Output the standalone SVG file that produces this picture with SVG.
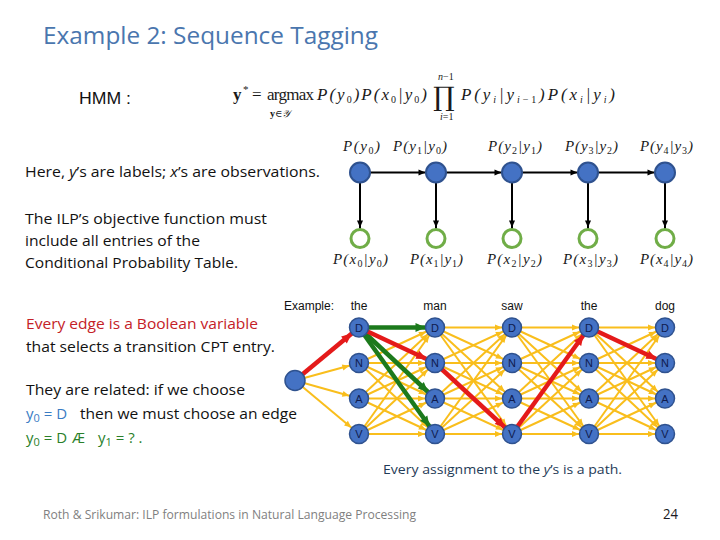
<svg xmlns="http://www.w3.org/2000/svg" width="720" height="540" viewBox="0 0 720 540">
<style>
.body{font-family:"Open Sans","Liberation Sans",sans-serif;font-size:15px;fill:#111}
.title{font-family:"Open Sans","Liberation Sans",sans-serif;font-size:24px;fill:#4A76AE}
.ar{font-family:"Liberation Sans",Arial,sans-serif;font-size:12px;fill:#111}
.m{font-family:"Liberation Serif","DejaVu Serif",serif;font-style:italic;font-size:15px;fill:#1a1a1a}
.mu{font-family:"Liberation Serif","DejaVu Serif",serif;font-size:16px;fill:#1a1a1a}
.sub{font-style:normal;font-size:10px}
.tn circle{fill:#4472C4;stroke:#2F528F;stroke-width:1.5}
.lt{font-family:"Liberation Sans",Arial,sans-serif;font-size:11px;text-anchor:middle}
.hb{fill:#4472C4;stroke:#2F528F;stroke-width:2}
.hg{fill:#fff;stroke:#70AD47;stroke-width:3}
.ye line{stroke:#F9BE1C;stroke-width:2;marker-end:url(#ay)}
.rd{stroke:#E41A1A;stroke-width:4.5;marker-end:url(#arr)}
.gr{stroke:#1C7A1C;stroke-width:4.5;marker-end:url(#agr)}
.bk{stroke:#000;stroke-width:2;marker-end:url(#ak)}
</style>
<defs>
<marker id="ay" markerUnits="userSpaceOnUse" markerWidth="7" markerHeight="6" refX="17" refY="3" orient="auto" overflow="visible"><path d="M0,0 L7,3 L0,6 z" fill="#F9BE1C"/></marker>
<marker id="arr" markerUnits="userSpaceOnUse" markerWidth="10" markerHeight="9" refX="19.5" refY="4.5" orient="auto" overflow="visible"><path d="M0,0 L10,4.5 L0,9 z" fill="#E41A1A"/></marker>
<marker id="agr" markerUnits="userSpaceOnUse" markerWidth="10" markerHeight="9" refX="19.5" refY="4.5" orient="auto" overflow="visible"><path d="M0,0 L10,4.5 L0,9 z" fill="#1C7A1C"/></marker>
<marker id="ak" markerUnits="userSpaceOnUse" markerWidth="7" markerHeight="6" refX="17.5" refY="3" orient="auto" overflow="visible"><path d="M0,0 L7,3 L0,6 z" fill="#000"/></marker>
</defs>
<rect width="720" height="540" fill="#fff"/>

<text class="title" x="43" y="44" textLength="335" lengthAdjust="spacingAndGlyphs">Example 2: Sequence Tagging</text>
<text class="ar" x="79" y="104" style="font-size:16px" textLength="52" lengthAdjust="spacingAndGlyphs">HMM :</text>

<g id="formula">
<text x="233" y="100" style="font-family:'Liberation Serif',serif;font-size:17px;font-weight:bold;fill:#1a1a1a">y</text>
<text x="243" y="93" style="font-family:'Liberation Serif',serif;font-size:11px;fill:#1a1a1a">*</text>
<text class="mu" x="252" y="100" style="font-size:17px">=</text>
<text class="mu" x="267" y="100" style="font-size:17px" textLength="47" lengthAdjust="spacing">argmax</text>
<text x="270" y="117" style="font-family:'Liberation Serif','DejaVu Serif',serif;font-size:10px;fill:#1a1a1a"><tspan font-weight="bold">y</tspan>∈<tspan font-style="italic">𝒴</tspan></text>
<text class="m" x="317" y="100" style="font-size:17px" textLength="110" lengthAdjust="spacing">P(y<tspan class="sub" dy="3">0</tspan><tspan dy="-3">)P(x</tspan><tspan class="sub" dy="3">0</tspan><tspan dy="-3">|y</tspan><tspan class="sub" dy="3">0</tspan><tspan dy="-3">)</tspan></text>
<text x="433" y="106" style="font-family:'DejaVu Serif',serif;font-size:27px;fill:#1a1a1a">∏</text>
<text x="438" y="80" style="font-family:'Liberation Serif',serif;font-size:10px;font-style:italic;fill:#1a1a1a">n<tspan font-style="normal">−1</tspan></text>
<text x="440" y="120" style="font-family:'Liberation Serif',serif;font-size:10px;font-style:italic;fill:#1a1a1a">i<tspan font-style="normal">=1</tspan></text>
<text class="m" x="461" y="100" style="font-size:17px" textLength="154" lengthAdjust="spacing">P(y<tspan class="sub" style="font-style:italic" dy="3">i</tspan><tspan dy="-3">|y</tspan><tspan class="sub" style="font-style:italic" dy="3">i</tspan><tspan class="sub" dy="0">−1</tspan><tspan dy="-3">)P(x</tspan><tspan class="sub" style="font-style:italic" dy="3">i</tspan><tspan dy="-3">|y</tspan><tspan class="sub" style="font-style:italic" dy="3">i</tspan><tspan dy="-3">)</tspan></text>
</g>

<text class="body" x="25" y="177" textLength="295" lengthAdjust="spacingAndGlyphs">Here, <tspan font-style="italic">y</tspan>’s are labels; <tspan font-style="italic">x</tspan>’s are observations.</text>
<text class="body" x="25" y="224" textLength="242" lengthAdjust="spacingAndGlyphs">The ILP’s objective function must</text>
<text class="body" x="25" y="246" textLength="175" lengthAdjust="spacingAndGlyphs">include all entries of the</text>
<text class="body" x="25" y="268" textLength="213" lengthAdjust="spacingAndGlyphs">Conditional Probability Table.</text>

<text class="body" x="26" y="329" style="fill:#C42127" textLength="232" lengthAdjust="spacingAndGlyphs">Every edge is a Boolean variable</text>
<text class="body" x="26" y="352" textLength="249" lengthAdjust="spacingAndGlyphs">that selects a transition CPT entry.</text>
<text class="body" x="26" y="395" textLength="219" lengthAdjust="spacingAndGlyphs">They are related: if we choose</text>
<text class="body" x="26" y="419" style="fill:#3A7CC4">y<tspan dy="3" font-size="11">0</tspan><tspan dy="-3"> = D</tspan></text>
<text class="body" x="80" y="419" textLength="217" lengthAdjust="spacingAndGlyphs">then we must choose an edge</text>
<text class="body" x="26" y="443" style="fill:#2A7F2A">y<tspan dy="3" font-size="11">0</tspan><tspan dy="-3"> = D</tspan></text>
<text class="body" x="72" y="443" style="fill:#2A7F2A">Æ</text>
<text class="body" x="98" y="443" style="fill:#2A7F2A">y<tspan dy="3" font-size="11">1</tspan><tspan dy="-3"> = ? .</tspan></text>

<text class="body" x="383" y="474" style="font-size:13.5px;fill:#1F3B57" textLength="239" lengthAdjust="spacingAndGlyphs">Every assignment to the <tspan font-style="italic">y</tspan>’s is a path.</text>
<text class="body" x="43" y="519" style="font-size:12.5px;fill:#7F7F7F" textLength="373" lengthAdjust="spacingAndGlyphs">Roth &amp; Srikumar: ILP formulations in Natural Language Processing</text>
<text class="body" x="663" y="519" style="font-size:15px;fill:#1A1A22" textLength="15" lengthAdjust="spacingAndGlyphs">24</text>

<!-- HMM chain labels -->
<g id="hmm-labels">
<text class="m" x="343" y="151" textLength="37" lengthAdjust="spacing">P(y<tspan class="sub" dy="3">0</tspan><tspan dy="-3">)</tspan></text>
<text class="m" x="393" y="151" textLength="54" lengthAdjust="spacing">P(y<tspan class="sub" dy="3">1</tspan><tspan dy="-3">|y</tspan><tspan class="sub" dy="3">0</tspan><tspan dy="-3">)</tspan></text>
<text class="m" x="488" y="151" textLength="54" lengthAdjust="spacing">P(y<tspan class="sub" dy="3">2</tspan><tspan dy="-3">|y</tspan><tspan class="sub" dy="3">1</tspan><tspan dy="-3">)</tspan></text>
<text class="m" x="565" y="151" textLength="53" lengthAdjust="spacing">P(y<tspan class="sub" dy="3">3</tspan><tspan dy="-3">|y</tspan><tspan class="sub" dy="3">2</tspan><tspan dy="-3">)</tspan></text>
<text class="m" x="640" y="151" textLength="53" lengthAdjust="spacing">P(y<tspan class="sub" dy="3">4</tspan><tspan dy="-3">|y</tspan><tspan class="sub" dy="3">3</tspan><tspan dy="-3">)</tspan></text>
<text class="m" x="333" y="264" textLength="55" lengthAdjust="spacing">P(x<tspan class="sub" dy="3">0</tspan><tspan dy="-3">|y</tspan><tspan class="sub" dy="3">0</tspan><tspan dy="-3">)</tspan></text>
<text class="m" x="410" y="264" textLength="53" lengthAdjust="spacing">P(x<tspan class="sub" dy="3">1</tspan><tspan dy="-3">|y</tspan><tspan class="sub" dy="3">1</tspan><tspan dy="-3">)</tspan></text>
<text class="m" x="487" y="264" textLength="55" lengthAdjust="spacing">P(x<tspan class="sub" dy="3">2</tspan><tspan dy="-3">|y</tspan><tspan class="sub" dy="3">2</tspan><tspan dy="-3">)</tspan></text>
<text class="m" x="563" y="264" textLength="55" lengthAdjust="spacing">P(x<tspan class="sub" dy="3">3</tspan><tspan dy="-3">|y</tspan><tspan class="sub" dy="3">3</tspan><tspan dy="-3">)</tspan></text>
<text class="m" x="640" y="264" textLength="53" lengthAdjust="spacing">P(x<tspan class="sub" dy="3">4</tspan><tspan dy="-3">|y</tspan><tspan class="sub" dy="3">4</tspan><tspan dy="-3">)</tspan></text>
</g>

<!-- trellis header -->
<text class="ar" x="284" y="310">Example:</text>
<text class="ar" x="359" y="310" text-anchor="middle">the</text>
<text class="ar" x="435" y="310" text-anchor="middle">man</text>
<text class="ar" x="512" y="310" text-anchor="middle">saw</text>
<text class="ar" x="589" y="310" text-anchor="middle">the</text>
<text class="ar" x="665" y="310" text-anchor="middle">dog</text>

<g id="connectors">
<g id="hmm-edges">
<line class="bk" x1="360" y1="172.5" x2="436" y2="172.5"/>
<line class="bk" x1="436" y1="172.5" x2="512" y2="172.5"/>
<line class="bk" x1="512" y1="172.5" x2="588" y2="172.5"/>
<line class="bk" x1="588" y1="172.5" x2="665" y2="172.5"/>
<line class="bk" x1="360" y1="172.5" x2="360" y2="238"/>
<line class="bk" x1="436" y1="172.5" x2="436" y2="238"/>
<line class="bk" x1="512" y1="172.5" x2="512" y2="238"/>
<line class="bk" x1="588" y1="172.5" x2="588" y2="238"/>
<line class="bk" x1="665" y1="172.5" x2="665" y2="238"/>
</g>
<g class="ye" id="trellis-edges">
<line x1="295" y1="380.5" x2="359" y2="327.5"/><line x1="295" y1="380.5" x2="359" y2="363"/><line x1="295" y1="380.5" x2="359" y2="398.5"/><line x1="295" y1="380.5" x2="359" y2="434"/>
<line x1="359" y1="327.5" x2="435" y2="327.5"/><line x1="359" y1="327.5" x2="435" y2="363"/><line x1="359" y1="327.5" x2="435" y2="398.5"/><line x1="359" y1="327.5" x2="435" y2="434"/>
<line x1="359" y1="363" x2="435" y2="327.5"/><line x1="359" y1="363" x2="435" y2="363"/><line x1="359" y1="363" x2="435" y2="398.5"/><line x1="359" y1="363" x2="435" y2="434"/>
<line x1="359" y1="398.5" x2="435" y2="327.5"/><line x1="359" y1="398.5" x2="435" y2="363"/><line x1="359" y1="398.5" x2="435" y2="398.5"/><line x1="359" y1="398.5" x2="435" y2="434"/>
<line x1="359" y1="434" x2="435" y2="327.5"/><line x1="359" y1="434" x2="435" y2="363"/><line x1="359" y1="434" x2="435" y2="398.5"/><line x1="359" y1="434" x2="435" y2="434"/>
<line x1="435" y1="327.5" x2="512" y2="327.5"/><line x1="435" y1="327.5" x2="512" y2="363"/><line x1="435" y1="327.5" x2="512" y2="398.5"/><line x1="435" y1="327.5" x2="512" y2="434"/>
<line x1="435" y1="363" x2="512" y2="327.5"/><line x1="435" y1="363" x2="512" y2="363"/><line x1="435" y1="363" x2="512" y2="398.5"/><line x1="435" y1="363" x2="512" y2="434"/>
<line x1="435" y1="398.5" x2="512" y2="327.5"/><line x1="435" y1="398.5" x2="512" y2="363"/><line x1="435" y1="398.5" x2="512" y2="398.5"/><line x1="435" y1="398.5" x2="512" y2="434"/>
<line x1="435" y1="434" x2="512" y2="327.5"/><line x1="435" y1="434" x2="512" y2="363"/><line x1="435" y1="434" x2="512" y2="398.5"/><line x1="435" y1="434" x2="512" y2="434"/>
<line x1="512" y1="327.5" x2="589" y2="327.5"/><line x1="512" y1="327.5" x2="589" y2="363"/><line x1="512" y1="327.5" x2="589" y2="398.5"/><line x1="512" y1="327.5" x2="589" y2="434"/>
<line x1="512" y1="363" x2="589" y2="327.5"/><line x1="512" y1="363" x2="589" y2="363"/><line x1="512" y1="363" x2="589" y2="398.5"/><line x1="512" y1="363" x2="589" y2="434"/>
<line x1="512" y1="398.5" x2="589" y2="327.5"/><line x1="512" y1="398.5" x2="589" y2="363"/><line x1="512" y1="398.5" x2="589" y2="398.5"/><line x1="512" y1="398.5" x2="589" y2="434"/>
<line x1="512" y1="434" x2="589" y2="327.5"/><line x1="512" y1="434" x2="589" y2="363"/><line x1="512" y1="434" x2="589" y2="398.5"/><line x1="512" y1="434" x2="589" y2="434"/>
<line x1="589" y1="327.5" x2="665" y2="327.5"/><line x1="589" y1="327.5" x2="665" y2="363"/><line x1="589" y1="327.5" x2="665" y2="398.5"/><line x1="589" y1="327.5" x2="665" y2="434"/>
<line x1="589" y1="363" x2="665" y2="327.5"/><line x1="589" y1="363" x2="665" y2="363"/><line x1="589" y1="363" x2="665" y2="398.5"/><line x1="589" y1="363" x2="665" y2="434"/>
<line x1="589" y1="398.5" x2="665" y2="327.5"/><line x1="589" y1="398.5" x2="665" y2="363"/><line x1="589" y1="398.5" x2="665" y2="398.5"/><line x1="589" y1="398.5" x2="665" y2="434"/>
<line x1="589" y1="434" x2="665" y2="327.5"/><line x1="589" y1="434" x2="665" y2="363"/><line x1="589" y1="434" x2="665" y2="398.5"/><line x1="589" y1="434" x2="665" y2="434"/>
</g>
<g id="green-edges">
<line class="gr" x1="359" y1="327.5" x2="435" y2="327.5"/>
<line class="gr" x1="359" y1="327.5" x2="435" y2="398.5"/>
<line class="gr" x1="359" y1="327.5" x2="435" y2="434"/>
</g>
<g id="red-path">
<line class="rd" x1="295" y1="380.5" x2="359" y2="327.5"/>
<line class="rd" x1="359" y1="327.5" x2="435" y2="363"/>
<line class="rd" x1="435" y1="363" x2="512" y2="434"/>
<line class="rd" x1="512" y1="434" x2="589" y2="327.5"/>
<line class="rd" x1="589" y1="327.5" x2="665" y2="363"/>
</g>
</g>

<!-- HMM nodes -->
<g id="y0"><circle class="hb" cx="360" cy="172.5" r="10"/></g>
<g id="y1"><circle class="hb" cx="436" cy="172.5" r="10"/></g>
<g id="y2"><circle class="hb" cx="512" cy="172.5" r="10"/></g>
<g id="y3"><circle class="hb" cx="588" cy="172.5" r="10"/></g>
<g id="y4"><circle class="hb" cx="665" cy="172.5" r="10"/></g>
<g id="x0"><circle class="hg" cx="360" cy="238.5" r="9"/></g>
<g id="x1"><circle class="hg" cx="436" cy="238.5" r="9"/></g>
<g id="x2"><circle class="hg" cx="512" cy="238.5" r="9"/></g>
<g id="x3"><circle class="hg" cx="588" cy="238.5" r="9"/></g>
<g id="x4"><circle class="hg" cx="665" cy="238.5" r="9"/></g>

<!-- trellis nodes -->
<g id="start" class="tn"><circle cx="295" cy="380.5" r="10"/></g>
<g id="t1D" class="tn"><circle cx="359" cy="327.5" r="9.5"/><text class="lt" fill="#0F1B4D" x="359" y="331.5">D</text></g>
<g id="t1N" class="tn"><circle cx="359" cy="363" r="9.5"/><text class="lt" fill="#0F1B4D" x="359" y="367">N</text></g>
<g id="t1A" class="tn"><circle cx="359" cy="398.5" r="9.5"/><text class="lt" fill="#0F1B4D" x="359" y="402.5">A</text></g>
<g id="t1V" class="tn"><circle cx="359" cy="434" r="9.5"/><text class="lt" fill="#0F1B4D" x="359" y="438">V</text></g>
<g id="t2D" class="tn"><circle cx="435" cy="327.5" r="9.5"/><text class="lt" fill="#0F1B4D" x="435" y="331.5">D</text></g>
<g id="t2N" class="tn"><circle cx="435" cy="363" r="9.5"/><text class="lt" fill="#0F1B4D" x="435" y="367">N</text></g>
<g id="t2A" class="tn"><circle cx="435" cy="398.5" r="9.5"/><text class="lt" fill="#0F1B4D" x="435" y="402.5">A</text></g>
<g id="t2V" class="tn"><circle cx="435" cy="434" r="9.5"/><text class="lt" fill="#0F1B4D" x="435" y="438">V</text></g>
<g id="t3D" class="tn"><circle cx="512" cy="327.5" r="9.5"/><text class="lt" fill="#0F1B4D" x="512" y="331.5">D</text></g>
<g id="t3N" class="tn"><circle cx="512" cy="363" r="9.5"/><text class="lt" fill="#0F1B4D" x="512" y="367">N</text></g>
<g id="t3A" class="tn"><circle cx="512" cy="398.5" r="9.5"/><text class="lt" fill="#0F1B4D" x="512" y="402.5">A</text></g>
<g id="t3V" class="tn"><circle cx="512" cy="434" r="9.5"/><text class="lt" fill="#0F1B4D" x="512" y="438">V</text></g>
<g id="t4D" class="tn"><circle cx="589" cy="327.5" r="9.5"/><text class="lt" fill="#0F1B4D" x="589" y="331.5">D</text></g>
<g id="t4N" class="tn"><circle cx="589" cy="363" r="9.5"/><text class="lt" fill="#0F1B4D" x="589" y="367">N</text></g>
<g id="t4A" class="tn"><circle cx="589" cy="398.5" r="9.5"/><text class="lt" fill="#0F1B4D" x="589" y="402.5">A</text></g>
<g id="t4V" class="tn"><circle cx="589" cy="434" r="9.5"/><text class="lt" fill="#0F1B4D" x="589" y="438">V</text></g>
<g id="t5D" class="tn"><circle cx="665" cy="327.5" r="9.5"/><text class="lt" fill="#0F1B4D" x="665" y="331.5">D</text></g>
<g id="t5N" class="tn"><circle cx="665" cy="363" r="9.5"/><text class="lt" fill="#0F1B4D" x="665" y="367">N</text></g>
<g id="t5A" class="tn"><circle cx="665" cy="398.5" r="9.5"/><text class="lt" fill="#0F1B4D" x="665" y="402.5">A</text></g>
<g id="t5V" class="tn"><circle cx="665" cy="434" r="9.5"/><text class="lt" fill="#0F1B4D" x="665" y="438">V</text></g>
</svg>
